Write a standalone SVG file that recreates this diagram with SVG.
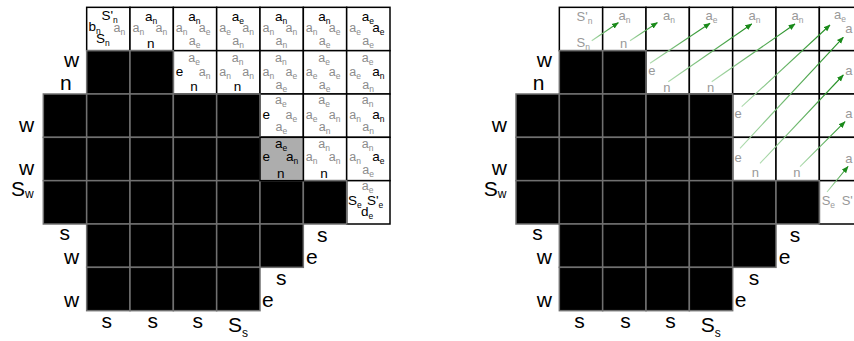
<svg xmlns="http://www.w3.org/2000/svg" xmlns:xlink="http://www.w3.org/1999/xlink" width="854" height="341" viewBox="0 0 854 341">
<style>
text{font-family:"Liberation Sans",Arial,sans-serif}
.L{font-size:21px;fill:#000}
.Ls{font-size:12px}
.k{font-size:13.5px;fill:#000}
.g{font-size:12.5px;fill:#8c8c8c}
.q{font-size:13px;fill:#999}
.s{font-size:8.5px}
.S{font-size:13.5px;fill:#000}
.wc{fill:#fff;stroke:#000;stroke-width:1.5}
.bc{fill:#000;stroke:#707070;stroke-width:1.5}
.gc{fill:#adadad;stroke:#000;stroke-width:1.5}
.ar{fill:none;stroke:url(#gr);stroke-width:1.1;marker-end:url(#ah)}
</style>
<defs>
<linearGradient id="gr" x1="0" y1="1" x2="1" y2="0">
<stop offset="0" stop-color="#b0dcb0"/>
<stop offset="1" stop-color="#1a8a1a"/>
</linearGradient>
<marker id="ah" viewBox="0 0 10 10" refX="9" refY="5" markerWidth="7" markerHeight="7" orient="auto" markerUnits="userSpaceOnUse">
<path d="M0,1 L10,5 L0,9 z" fill="#1a8a1a"/>
</marker>
<g id="board">
<g id="white-cells">
<rect class="wc" x="86.67" y="7.33" width="43.33" height="43.33"/>
<rect class="wc" x="130" y="7.33" width="43.33" height="43.33"/>
<rect class="wc" x="173.33" y="7.33" width="43.33" height="43.33"/>
<rect class="wc" x="216.67" y="7.33" width="43.33" height="43.33"/>
<rect class="wc" x="260" y="7.33" width="43.33" height="43.33"/>
<rect class="wc" x="303.33" y="7.33" width="43.33" height="43.33"/>
<rect class="wc" x="346.67" y="7.33" width="43.33" height="43.33"/>
<rect class="wc" x="173.33" y="50.67" width="43.33" height="43.33"/>
<rect class="wc" x="216.67" y="50.67" width="43.33" height="43.33"/>
<rect class="wc" x="260" y="50.67" width="43.33" height="43.33"/>
<rect class="wc" x="303.33" y="50.67" width="43.33" height="43.33"/>
<rect class="wc" x="346.67" y="50.67" width="43.33" height="43.33"/>
<rect class="wc" x="260" y="94" width="43.33" height="43.33"/>
<rect class="wc" x="303.33" y="94" width="43.33" height="43.33"/>
<rect class="wc" x="346.67" y="94" width="43.33" height="43.33"/>
<rect class="wc" x="260" y="137.33" width="43.33" height="43.33"/>
<rect class="wc" x="303.33" y="137.33" width="43.33" height="43.33"/>
<rect class="wc" x="346.67" y="137.33" width="43.33" height="43.33"/>
<rect class="wc" x="346.67" y="180.67" width="43.33" height="43.33"/>
</g>
<g id="black-cells">
<rect class="bc" x="86.67" y="50.67" width="43.33" height="43.33"/>
<rect class="bc" x="130" y="50.67" width="43.33" height="43.33"/>
<rect class="bc" x="43.33" y="94" width="43.33" height="43.33"/>
<rect class="bc" x="86.67" y="94" width="43.33" height="43.33"/>
<rect class="bc" x="130" y="94" width="43.33" height="43.33"/>
<rect class="bc" x="173.33" y="94" width="43.33" height="43.33"/>
<rect class="bc" x="216.67" y="94" width="43.33" height="43.33"/>
<rect class="bc" x="43.33" y="137.33" width="43.33" height="43.33"/>
<rect class="bc" x="86.67" y="137.33" width="43.33" height="43.33"/>
<rect class="bc" x="130" y="137.33" width="43.33" height="43.33"/>
<rect class="bc" x="173.33" y="137.33" width="43.33" height="43.33"/>
<rect class="bc" x="216.67" y="137.33" width="43.33" height="43.33"/>
<rect class="bc" x="43.33" y="180.67" width="43.33" height="43.33"/>
<rect class="bc" x="86.67" y="180.67" width="43.33" height="43.33"/>
<rect class="bc" x="130" y="180.67" width="43.33" height="43.33"/>
<rect class="bc" x="173.33" y="180.67" width="43.33" height="43.33"/>
<rect class="bc" x="216.67" y="180.67" width="43.33" height="43.33"/>
<rect class="bc" x="260" y="180.67" width="43.33" height="43.33"/>
<rect class="bc" x="303.33" y="180.67" width="43.33" height="43.33"/>
<rect class="bc" x="86.67" y="224" width="43.33" height="43.33"/>
<rect class="bc" x="130" y="224" width="43.33" height="43.33"/>
<rect class="bc" x="173.33" y="224" width="43.33" height="43.33"/>
<rect class="bc" x="216.67" y="224" width="43.33" height="43.33"/>
<rect class="bc" x="260" y="224" width="43.33" height="43.33"/>
<rect class="bc" x="86.67" y="267.33" width="43.33" height="43.33"/>
<rect class="bc" x="130" y="267.33" width="43.33" height="43.33"/>
<rect class="bc" x="173.33" y="267.33" width="43.33" height="43.33"/>
<rect class="bc" x="216.67" y="267.33" width="43.33" height="43.33"/>
</g>
<g id="border-labels">
<text class="L" x="64" y="66.5">w</text>
<text class="L" x="60" y="89.5">n</text>
<text class="L" x="19" y="131.5">w</text>
<text class="L" x="19" y="175">w</text>
<text class="L" x="11" y="195.5">S<tspan class="Ls" dy="2">w</tspan></text>
<text class="L" x="59.5" y="240">s</text>
<text class="L" x="64" y="264">w</text>
<text class="L" x="64" y="306.5">w</text>
<text class="L" x="101.5" y="328">s</text>
<text class="L" x="147.5" y="328">s</text>
<text class="L" x="192.5" y="328">s</text>
<text class="L" x="228" y="332">S<tspan class="Ls" dy="5">s</tspan></text>
<text class="L" x="317" y="242">s</text>
<text class="L" x="306" y="264">e</text>
<text class="L" x="276" y="285">s</text>
<text class="L" x="262" y="307">e</text>
</g>
</g>
</defs>

<g id="left-diagram">
<use xlink:href="#board"/>
<rect id="current-cell" class="gc" x="260" y="137.33" width="43.33" height="43.33"/>
<g id="left-cell-labels">
<g id="L-r0c1">
<text class="k" x="101.5" y="19.5">S'<tspan class="s" dy="3">n</tspan></text>
<text class="k" x="88.5" y="31">b<tspan class="s" dy="3">n</tspan></text>
<text class="k" x="96" y="42.5">S<tspan class="s" dy="3">n</tspan></text>
<text class="g" x="113.5" y="32">a<tspan class="s" dy="3">n</tspan></text>
</g>
<g id="L-r0c2">
<text class="k" x="145" y="20.8">a<tspan class="s" dy="3">n</tspan></text>
<text class="g" x="132.5" y="32.3">a<tspan class="s" dy="3">n</tspan></text>
<text class="g" x="155.5" y="32.3">a<tspan class="s" dy="3">n</tspan></text>
<text class="k" x="147" y="47.5">n</text>
</g>
<g id="L-r0c3">
<text class="k" x="188.3" y="20.8">a<tspan class="s" dy="3">n</tspan></text>
<text class="g" x="175.8" y="32.3">a<tspan class="s" dy="3">n</tspan></text>
<text class="g" x="198.8" y="32.3">a<tspan class="s" dy="3">e</tspan></text>
<text class="g" x="188.8" y="45">a<tspan class="s" dy="3">e</tspan></text>
</g>
<g id="L-r0c4">
<text class="k" x="231.7" y="20.8">a<tspan class="s" dy="3">e</tspan></text>
<text class="g" x="219.2" y="32.3">a<tspan class="s" dy="3">e</tspan></text>
<text class="g" x="242.2" y="32.3">a<tspan class="s" dy="3">n</tspan></text>
<text class="g" x="232.2" y="45">a<tspan class="s" dy="3">n</tspan></text>
</g>
<g id="L-r0c5">
<text class="k" x="275" y="20.8">a<tspan class="s" dy="3">n</tspan></text>
<text class="g" x="262.5" y="32.3">a<tspan class="s" dy="3">n</tspan></text>
<text class="g" x="285.5" y="32.3">a<tspan class="s" dy="3">n</tspan></text>
<text class="g" x="275.5" y="45">a<tspan class="s" dy="3">n</tspan></text>
</g>
<g id="L-r0c6">
<text class="k" x="318.3" y="20.8">a<tspan class="s" dy="3">n</tspan></text>
<text class="g" x="305.8" y="32.3">a<tspan class="s" dy="3">n</tspan></text>
<text class="g" x="328.8" y="32.3">a<tspan class="s" dy="3">e</tspan></text>
<text class="g" x="318.8" y="45">a<tspan class="s" dy="3">e</tspan></text>
</g>
<g id="L-r0c7">
<text class="k" x="361.7" y="20.8">a<tspan class="s" dy="3">e</tspan></text>
<text class="g" x="349.2" y="32.3">a<tspan class="s" dy="3">e</tspan></text>
<text class="k" x="372.2" y="32.3">a<tspan class="s" dy="3">e</tspan></text>
<text class="g" x="362.2" y="45">a<tspan class="s" dy="3">e</tspan></text>
</g>
<g id="L-r1c3">
<text class="g" x="188.3" y="61.7">a<tspan class="s" dy="3">e</tspan></text>
<text class="k" x="175.8" y="76">e</text>
<text class="g" x="198.8" y="76">a<tspan class="s" dy="3">n</tspan></text>
<text class="k" x="190.3" y="91">n</text>
</g>
<g id="L-r1c4">
<text class="g" x="231.7" y="61.7">a<tspan class="s" dy="3">n</tspan></text>
<text class="g" x="219.2" y="76">a<tspan class="s" dy="3">n</tspan></text>
<text class="g" x="242.2" y="76">a<tspan class="s" dy="3">n</tspan></text>
<text class="k" x="233.7" y="91">n</text>
</g>
<g id="L-r1c5">
<text class="g" x="275" y="61.7">a<tspan class="s" dy="3">n</tspan></text>
<text class="g" x="262.5" y="76">a<tspan class="s" dy="3">n</tspan></text>
<text class="g" x="285.5" y="76">a<tspan class="s" dy="3">e</tspan></text>
<text class="g" x="275.5" y="89">a<tspan class="s" dy="3">e</tspan></text>
</g>
<g id="L-r1c6">
<text class="g" x="318.3" y="61.7">a<tspan class="s" dy="3">e</tspan></text>
<text class="g" x="305.8" y="76">a<tspan class="s" dy="3">e</tspan></text>
<text class="g" x="328.8" y="76">a<tspan class="s" dy="3">e</tspan></text>
<text class="g" x="318.8" y="89">a<tspan class="s" dy="3">e</tspan></text>
</g>
<g id="L-r1c7">
<text class="g" x="361.7" y="61.7">a<tspan class="s" dy="3">e</tspan></text>
<text class="g" x="349.2" y="76">a<tspan class="s" dy="3">e</tspan></text>
<text class="k" x="372.2" y="76">a<tspan class="s" dy="3">n</tspan></text>
<text class="g" x="362.2" y="89">a<tspan class="s" dy="3">n</tspan></text>
</g>
<g id="L-r2c5">
<text class="g" x="275" y="104">a<tspan class="s" dy="3">e</tspan></text>
<text class="k" x="262.5" y="119">e</text>
<text class="g" x="285.5" y="119">a<tspan class="s" dy="3">e</tspan></text>
<text class="g" x="275.5" y="131">a<tspan class="s" dy="3">e</tspan></text>
</g>
<g id="L-r2c6">
<text class="g" x="318.3" y="104">a<tspan class="s" dy="3">e</tspan></text>
<text class="g" x="305.8" y="119">a<tspan class="s" dy="3">e</tspan></text>
<text class="g" x="328.8" y="119">a<tspan class="s" dy="3">n</tspan></text>
<text class="g" x="318.8" y="131">a<tspan class="s" dy="3">n</tspan></text>
</g>
<g id="L-r2c7">
<text class="g" x="361.7" y="104">a<tspan class="s" dy="3">n</tspan></text>
<text class="g" x="349.2" y="119">a<tspan class="s" dy="3">n</tspan></text>
<text class="k" x="372.2" y="119">a<tspan class="s" dy="3">n</tspan></text>
<text class="g" x="362.2" y="131">a<tspan class="s" dy="3">n</tspan></text>
</g>
<g id="L-r3c5">
<text class="k" x="275" y="147.5">a<tspan class="s" dy="3">e</tspan></text>
<text class="k" x="262.5" y="161">e</text>
<text class="k" x="286" y="161">a<tspan class="s" dy="3">n</tspan></text>
<text class="k" x="277" y="177.5">n</text>
</g>
<g id="L-r3c6">
<text class="g" x="318.3" y="147.5">a<tspan class="s" dy="3">n</tspan></text>
<text class="g" x="305.8" y="161">a<tspan class="s" dy="3">n</tspan></text>
<text class="g" x="328.8" y="161">a<tspan class="s" dy="3">n</tspan></text>
<text class="k" x="320.3" y="177.5">n</text>
</g>
<g id="L-r3c7">
<text class="g" x="361.7" y="147.5">a<tspan class="s" dy="3">n</tspan></text>
<text class="g" x="349.2" y="161">a<tspan class="s" dy="3">n</tspan></text>
<text class="k" x="372.2" y="161">a<tspan class="s" dy="3">e</tspan></text>
<text class="g" x="362.2" y="174">a<tspan class="s" dy="3">e</tspan></text>
</g>
<g id="L-r4c7">
<text class="g" x="361.7" y="189.5">a<tspan class="s" dy="3">e</tspan></text>
<text class="S" x="348" y="205">S<tspan class="s" dy="3">e</tspan></text>
<text class="S" x="367" y="205">S'<tspan class="s" dy="3">e</tspan></text>
<text class="S" x="361" y="216">d<tspan class="s" dy="3">e</tspan></text>
</g>
</g>
</g>

<g id="right-diagram">
<use xlink:href="#board" transform="translate(472.67,0)"/>
<g id="right-cell-labels">
<text class="q" x="576.5" y="21">S'<tspan class="s" dy="3">n</tspan></text>
<text class="q" x="576.5" y="46.5">S<tspan class="s" dy="3">n</tspan></text>
<text class="q" x="618.5" y="20">a<tspan class="s" dy="3">n</tspan></text>
<text class="q" x="620" y="47.5">n</text>
<text class="q" x="663" y="20">a<tspan class="s" dy="3">n</tspan></text>
<text class="q" x="705.5" y="20">a<tspan class="s" dy="3">e</tspan></text>
<text class="q" x="748.5" y="20">a<tspan class="s" dy="3">n</tspan></text>
<text class="q" x="791.5" y="20">a<tspan class="s" dy="3">n</tspan></text>
<text class="q" x="834" y="19">a<tspan class="s" dy="3">e</tspan></text>
<text class="q" x="845.3" y="33">a</text>
<text class="q" x="648.3" y="75">e</text>
<text class="q" x="663.3" y="92">n</text>
<text class="q" x="707" y="92">n</text>
<text class="q" x="845.3" y="75">a</text>
<text class="q" x="734.5" y="118">e</text>
<text class="q" x="845.3" y="118.3">a</text>
<text class="q" x="734.5" y="161.7">e</text>
<text class="q" x="751.7" y="176.7">n</text>
<text class="q" x="793.3" y="176.7">n</text>
<text class="q" x="845.3" y="163">a</text>
<text class="q" x="821.7" y="205">S<tspan class="s" dy="3">e</tspan></text>
<text class="q" x="841.7" y="205">S'</text>
</g>
<g id="connectors">
<line class="ar" x1="591.7" y1="40.7" x2="618.3" y2="22.7"/>
<line class="ar" x1="630" y1="40.7" x2="657.3" y2="22.7"/>
<line class="ar" x1="650" y1="63.3" x2="710" y2="23.3"/>
<line class="ar" x1="668.3" y1="81.7" x2="751.7" y2="24"/>
<line class="ar" x1="711.7" y1="81.7" x2="795" y2="24"/>
<line class="ar" x1="741.7" y1="106.7" x2="830" y2="25"/>
<line class="ar" x1="740" y1="148.3" x2="843.3" y2="37.3"/>
<line class="ar" x1="760" y1="163.3" x2="843.3" y2="75"/>
<line class="ar" x1="800" y1="166.7" x2="845" y2="121.7"/>
<line class="ar" x1="827" y1="192" x2="848" y2="166.5"/>
</g>
</g>
</svg>
